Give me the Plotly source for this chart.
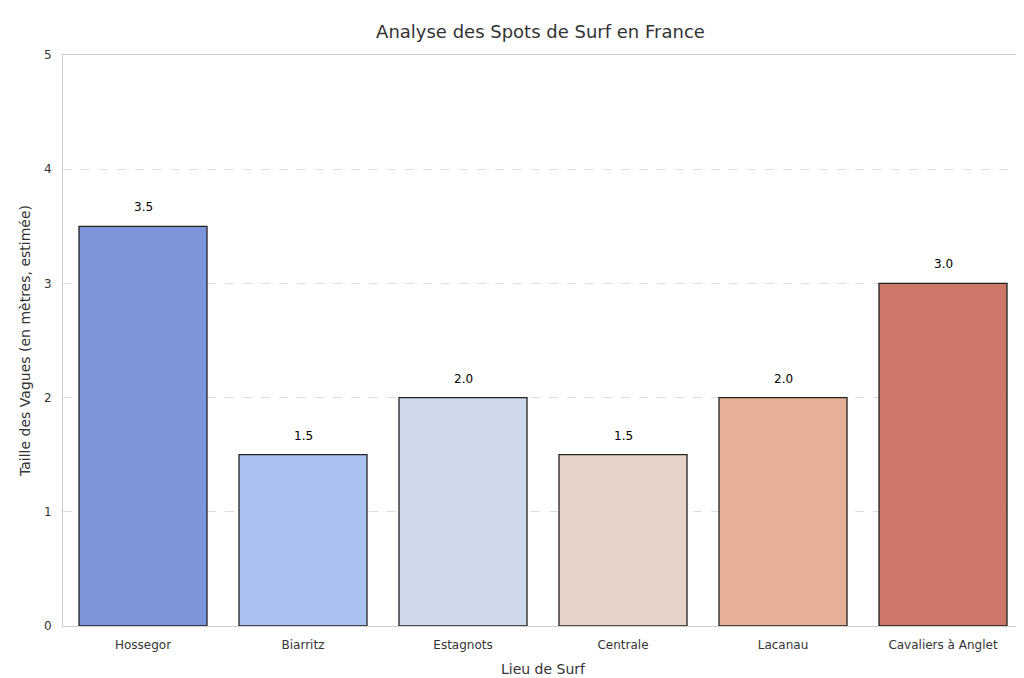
import plotly.graph_objects as go

spots = ["Hossegor", "Biarritz", "Estagnots", "Centrale", "Lacanau", "Cavaliers à Anglet"]
heights = [3.5, 1.5, 2.0, 1.5, 2.0, 3.0]
colors = ["#7b94da", "#aac1f2", "#cdd9ea", "#e7d4c8", "#e7af96", "#cc7767"]

fig = go.Figure(go.Bar(
    x=spots, y=heights, marker=dict(color=colors, line=dict(color="#222", width=1.3)),
    width=0.8, hoverinfo="x+y",
))
for s, v in zip(spots, heights):
    fig.add_annotation(x=s, y=v, text=f"{v:.1f}", showarrow=False, yanchor="bottom",
                       yshift=10, font=dict(size=12, color="black"))
fig.update_layout(
    width=1024, height=678, paper_bgcolor="white", plot_bgcolor="white",
    font=dict(family="DejaVu Sans", color="#333"),
    margin=dict(l=55, r=9, t=47, b=60, autoexpand=False),
    title=dict(text="Analyse des Spots de Surf en France", x=0.52, y=0.975, font=dict(size=18), automargin=False),
    showlegend=False,
)
fig.update_xaxes(title=dict(text="Lieu de Surf", font=dict(size=14), standoff=12), tickfont=dict(size=12),
                 showline=True, linecolor="#ccc", mirror=True, ticks="outside", tickcolor="white",
                 ticklen=8, automargin=False)
fig.update_yaxes(title=dict(text="Taille des Vagues (en mètres, estimée)", font=dict(size=14), standoff=10),
                 range=[0, 5], dtick=1, tickfont=dict(size=12), showline=True, linecolor="#ccc",
                 mirror=True, gridcolor="#ddd", griddash="dash", zeroline=False,
                 ticks="outside", tickcolor="white", ticklen=8, automargin=False)
fig.write_html("out.html")
